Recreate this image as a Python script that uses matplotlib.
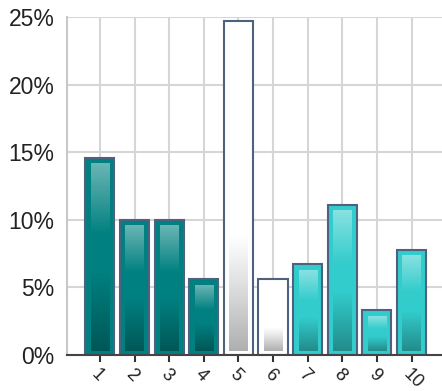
import numpy as np
import matplotlib
matplotlib.use("Agg")
import matplotlib.pyplot as plt
from matplotlib.ticker import FuncFormatter, MultipleLocator
from matplotlib.transforms import ScaledTranslation

categories = ["1", "2", "3", "4", "5", "6", "7", "8", "9", "10"]
values = [14.6, 10.0, 10.0, 5.6, 24.7, 5.6, 6.7, 11.1, 3.3, 7.8]
groups = ["teal", "teal", "teal", "teal", "white", "white", "turq", "turq", "turq", "turq"]

base_colors = {"teal": "#008080", "white": "#ffffff", "turq": "#33cccc"}
edge_color = "#50607f"

plt.rcParams['font.family'] = ['Liberation Sans', 'DejaVu Sans']

W, H = 442, 391
fig = plt.figure(figsize=(W / 100, H / 100), dpi=100)
ax_left, ax_right, ax_bottom, ax_top = 67, 442, 36, 374
ax = fig.add_axes([ax_left / W, ax_bottom / H, (ax_right - ax_left) / W, (ax_top - ax_bottom) / H])

x = np.arange(1, len(categories) + 1)
width = 0.84
bars = ax.bar(x, values, width=width, color=[base_colors[g] for g in groups],
              edgecolor=edge_color, linewidth=1.5, zorder=3)

xlim = (0.05, 10.88)
ylim = (0, 25)
ax.set_xlim(*xlim)
ax.set_ylim(*ylim)

px_x = (xlim[1] - xlim[0]) / (ax_right - ax_left)
px_y = (ylim[1] - ylim[0]) / (ax_top - ax_bottom)

n = 200
for xi, v, g in zip(x, values, groups):
    x0 = xi - width / 2 + 5.5 * px_x
    x1 = xi + width / 2 - 5.5 * px_x
    y0 = 3.5 * px_y
    y1 = v - 6.5 * px_y
    t = np.linspace(1, 0, n)
    rgba = np.zeros((n, 1, 4))
    if g == "white":
        a = np.clip((0.36 - t) / 0.36, 0, 1) ** 1.1
        rgba[:, 0, :3] = np.array([0.69, 0.69, 0.69])
        rgba[:, 0, 3] = a
    else:
        top_a = np.clip((t - 0.62) / 0.38, 0, 1) * 0.42
        bot_a = np.clip((0.42 - t) / 0.42, 0, 1) * 0.32
        col = np.where(top_a[:, None] > 0, np.array([1.0, 1.0, 1.0]), np.array([0.0, 0.0, 0.0]))
        rgba[:, 0, :3] = col
        rgba[:, 0, 3] = np.maximum(top_a, bot_a)
    ax.imshow(rgba, extent=(x0, x1, y0, y1), aspect='auto', zorder=4, interpolation='bilinear')

ax.set_xlim(*xlim)
ax.set_ylim(*ylim)
ax.set_aspect('auto')

ax.yaxis.set_major_locator(MultipleLocator(5))
ax.yaxis.set_major_formatter(FuncFormatter(lambda v, p: f"{int(v)}%"))
ax.set_xticks(x)
ax.set_xticklabels(categories, rotation=-45, ha='left', rotation_mode='anchor',
                   fontsize=13, color='#222222')
shift = ScaledTranslation(-7 / 100, 3 / 100, fig.dpi_scale_trans)
for lbl in ax.get_xticklabels():
    lbl.set_transform(lbl.get_transform() + shift)
ax.tick_params(axis='x', length=5, width=1.5, color='#333333', pad=3)
ax.tick_params(axis='y', length=0, pad=9, labelsize=16.5, labelcolor='#222222')

ax.grid(True, color='#d6d6d6', linewidth=1.5, zorder=0)
ax.set_axisbelow(True)
for s in ['top', 'right']:
    ax.spines[s].set_visible(False)
ax.spines['left'].set_color('#c8c8c8')
ax.spines['left'].set_linewidth(1.5)
ax.spines['bottom'].set_color('#444444')
ax.spines['bottom'].set_linewidth(1.5)
ax.spines['bottom'].set_zorder(5)

fig.savefig("out.png", dpi=100)
